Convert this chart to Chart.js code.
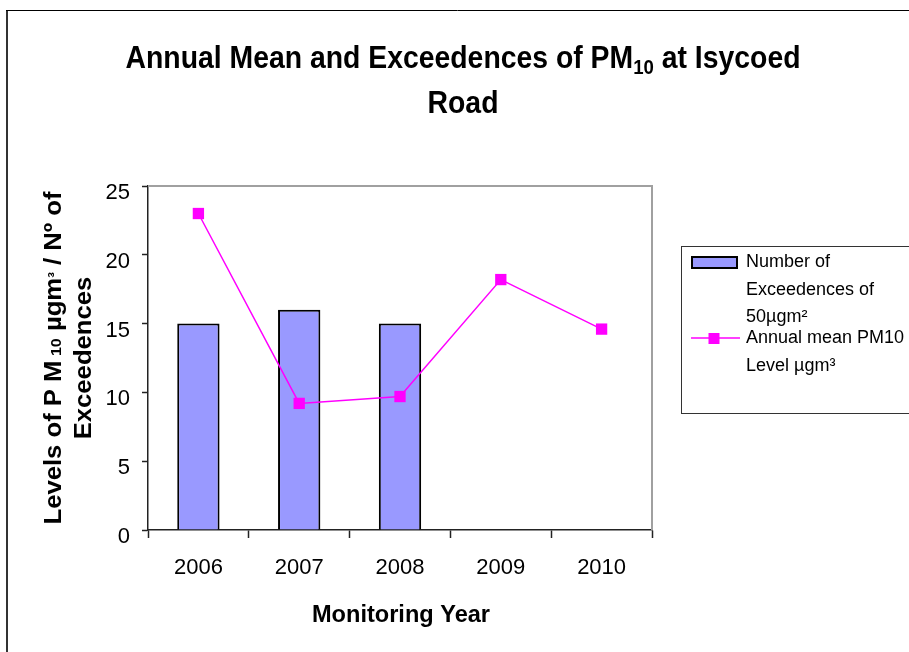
<!DOCTYPE html>
<html>
<head>
<meta charset="utf-8">
<script src="https://cdn.jsdelivr.net/npm/chart.js@4.4.0/dist/chart.umd.min.js"></script>
<style>
  html, body { margin: 0; padding: 0; background: #fff; }
  canvas { display: block; }
</style>
</head>
<body>
<canvas id="chart" width="909" height="652"></canvas>
<script>
// runs in browser

const years = ['2006', '2007', '2008', '2009', '2010'];
const exceedences = [15, 16, 15, null, null];
const annualMean = [23.0, 9.2, 9.7, 18.2, 14.6];
const yTicks = [0, 5, 10, 15, 20, 25];

const barLegendLines = ['Number of', 'Exceedences of', '50µgm²'];
const lineLegendLines = ['Annual mean PM10', 'Level µgm³'];

const FONT = '"Liberation Sans", Arial, sans-serif';

var ctx = document.getElementById('chart').getContext('2d');

// draw runs of [text, size, dy] centred on cx, squeezed to targetWidth
// (or by a fixed factor sx); returns the factor used
function drawRuns(c, runs, cx, cy, targetWidth, sx) {
  let total = 0;
  for (const r of runs) {
    c.font = 'bold ' + r[1] + 'px ' + FONT;
    total += c.measureText(r[0]).width;
  }
  if (!sx) sx = targetWidth ? targetWidth / total : 1;
  c.save();
  c.translate(cx, cy);
  c.scale(sx, 1);
  let x = -total / 2;
  c.textBaseline = 'alphabetic';
  c.textAlign = 'left';
  for (const r of runs) {
    c.font = 'bold ' + r[1] + 'px ' + FONT;
    c.fillText(r[0], x, r[2]);
    x += c.measureText(r[0]).width;
  }
  c.restore();
  return sx;
}

const decorations = {
  id: 'decorations',
  beforeDraw(chart) {
    const c = chart.ctx;
    c.save();
    c.fillStyle = '#fff';
    c.fillRect(0, 0, chart.width, chart.height);
    c.restore();
  },
  afterDraw(chart) {
    const c = chart.ctx;
    const area = chart.chartArea;
    c.save();

    // outer frame (cut at right and bottom)
    c.strokeStyle = '#333';
    c.lineWidth = 2;
    c.beginPath();
    c.moveTo(7, 652);
    c.lineTo(7, 10);
    c.stroke();
    c.strokeStyle = '#000';
    c.lineWidth = 1;
    c.beginPath();
    c.moveTo(6, 10.5);
    c.lineTo(909, 10.5);
    c.stroke();

    // plot area border top/right
    c.strokeStyle = '#a0a0a0';
    c.lineWidth = 2;
    c.beginPath();
    c.moveTo(area.left, area.top);
    c.lineTo(area.right, area.top);
    c.lineTo(area.right, area.bottom);
    c.stroke();

    c.fillStyle = '#000';

    // title
    const tsx = drawRuns(c, [
      ['Annual Mean and Exceedences of PM', 32, 0],
      ['10', 21, 6],
      [' at Isycoed', 32, 0]
    ], 463, 68, 675);
    drawRuns(c, [['Road', 32, 0]], 463, 113, 0, tsx);

    // x axis title
    drawRuns(c, [['Monitoring Year', 23, 0]], 401, 622, 178);

    // y axis title
    c.save();
    c.translate(0, 358);
    c.rotate(-Math.PI / 2);
    const ysx = drawRuns(c, [
      ['Levels of P M', 24, 0],
      [' 10', 15, 0],
      [' µgm', 24, 0],
      ['³', 16, -2],
      [' / Nº of', 24, 0]
    ], 0, 61, 333);
    drawRuns(c, [['Exceedences', 24, 0]], 0, 91, 0, ysx);
    c.restore();

    // legend
    const lx = 681.5, ly = 246.5;
    c.strokeStyle = '#333';
    c.lineWidth = 1;
    c.strokeRect(lx, ly, 240, 167);

    const bar = chart.data.datasets[1];
    const line = chart.data.datasets[0];
    c.fillStyle = bar.backgroundColor;
    c.fillRect(692, 257, 45, 11);
    c.strokeStyle = bar.borderColor;
    c.lineWidth = 2;
    c.strokeRect(692, 257, 45, 11);

    c.strokeStyle = line.borderColor;
    c.lineWidth = 1.5;
    c.beginPath();
    c.moveTo(691, 338);
    c.lineTo(740, 338);
    c.stroke();
    c.fillStyle = line.pointBackgroundColor;
    c.fillRect(708.5, 333, 11, 11);

    c.fillStyle = '#000';
    c.font = '18px ' + FONT;
    c.textAlign = 'left';
    c.textBaseline = 'middle';
    const barY = [262, 290, 317];
    barLegendLines.forEach((t, i) => c.fillText(t, 746, barY[i]));
    const lineY = [338, 366];
    lineLegendLines.forEach((t, i) => c.fillText(t, 746, lineY[i]));

    c.restore();
  }
};

const config = {
  data: {
    labels: years,
    datasets: [
      {
        type: 'line',
        label: 'Annual mean PM10 Level µgm³',
        data: annualMean,
        borderColor: '#ff00ff',
        backgroundColor: '#ff00ff',
        pointBackgroundColor: '#ff00ff',
        pointBorderColor: '#ff00ff',
        pointBorderWidth: 0,
        pointStyle: 'rect',
        pointRadius: 8,
        borderWidth: 1.5,
        tension: 0,
        order: 1,
      },
      {
        type: 'bar',
        label: 'Number of Exceedences of 50µgm²',
        data: exceedences,
        backgroundColor: '#9999ff',
        borderColor: '#000',
        borderWidth: 2,
        categoryPercentage: 1,
        barPercentage: 0.42,
        order: 2,
      },
    ],
  },
  options: {
    responsive: false,
    animation: false,
    events: [],
    layout: {
      padding: { left: 0, top: 186, right: 257, bottom: 0 },
    },
    plugins: {
      legend: { display: false },
      title: { display: false },
      tooltip: { enabled: false },
    },
    scales: {
      x: {
        offset: true,
        grid: {
          offset: true,
          drawOnChartArea: false,
          tickLength: 8,
          tickColor: '#222',
          tickWidth: 1.5,
        },
        border: { color: '#222', width: 1.5 },
        ticks: {
          color: '#000',
          font: { family: FONT, size: 22 },
          padding: 17,
          maxRotation: 0,
        },
        afterFit(scale) {
          scale.height = 122;
        },
      },
      y: {
        min: 0,
        max: 25,
        afterBuildTicks(scale) {
          scale.ticks = yTicks.map((v) => ({ value: v }));
        },
        grid: {
          drawOnChartArea: false,
          tickLength: 6,
          tickColor: '#222',
          tickWidth: 1.5,
        },
        border: { color: '#222', width: 1.5 },
        ticks: {
          color: '#000',
          font: { family: FONT, size: 22 },
          padding: 12,
          labelOffset: 7,
        },
        afterFit(scale) {
          scale.width = 148;
        },
      },
    },
  },
  plugins: [decorations],
};

new Chart(ctx, config);
</script>
</body>
</html>
